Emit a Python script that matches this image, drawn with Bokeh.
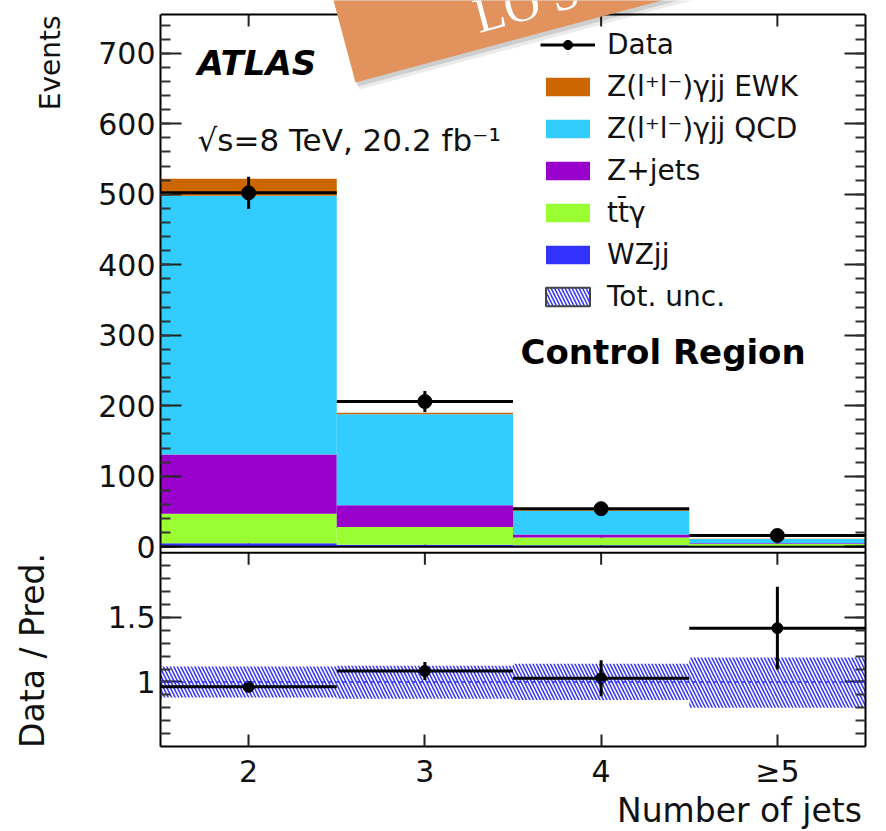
import numpy as np
from math import pi, radians
from bokeh.plotting import figure
from bokeh.models import (Range1d, LinearAxis, FixedTicker, Legend, LegendItem,
                          Label, PolyAnnotation, ColumnDataSource, Span, CustomJSTickFormatter)
from bokeh.layouts import column, row
from bokeh.embed import file_html
from bokeh.resources import INLINE

# ---------------- data ----------------
bin_labels = ["2", "3", "4", "≥5"]
bin_centers = [2, 3, 4, 5]
bin_lo = [1.5, 2.5, 3.5, 4.5]
bin_hi = [2.5, 3.5, 4.5, 5.5]

wzjj = [5, 3, 2, 1]
ttgamma = [42, 25, 11, 3]
zjets = [84, 31, 4.5, 1]
qcd = [367, 129, 33.5, 6]
ewk = [24, 2, 1.5, 0.3]

data = [502, 206, 54, 16]
data_err = [23, 15, 8, 4]

ratio_err = [0.04, 0.07, 0.14, 0.32]
unc_lo = [0.88, 0.87, 0.86, 0.80]
unc_hi = [1.12, 1.125, 1.14, 1.19]

top_ticks = [0, 100, 200, 300, 400, 500, 600, 700]
ratio_ticks = [1.0, 1.5]
ratio_tick_labels = ["1", "1.5"]

series_names = ["WZjj", "tt\u0304γ", "Z+jets", "Z(l⁺l⁻)γjj QCD", "Z(l⁺l⁻)γjj EWK"]
series_vals = [wzjj, ttgamma, zjets, qcd, ewk]
series_cols = ["#3333FF", "#99FF33", "#9900CC", "#33CCFF", "#CC6600"]

FONT = "DejaVu Sans"

# ---------------- geometry (global pixels) ----------------
W, H = 886, 831
LEFT_W = 90                 # helper strip holding the vertical titles
BOT_STRIP = 40              # helper strip holding the x title
FR_L, FR_R = 160, 865
TOP_T, TOP_B = 14, 547      # upper panel frame
RAT_T, RAT_B = 553, 747     # ratio panel frame
YMAX = 755
RMIN, RMAX = 0.5, 2.0

TOP_PPU = (TOP_B - TOP_T) / YMAX
R_PPU = (RAT_B - RAT_T) / (RMAX - RMIN)


def px_x(px):
    return 1.5 + (px - FR_L) * 4.0 / (FR_R - FR_L)


def main_of_py(py):
    return (TOP_B - py) / TOP_PPU


def ratio_of_py(py):
    return RMIN + (RAT_B - py) / R_PPU


def main_of_ratio(rv):
    return main_of_py(RAT_B - (rv - RMIN) * R_PPU)


MAIN_W = W - LEFT_W
MAIN_H = H - BOT_STRIP

p = figure(width=MAIN_W, height=MAIN_H, x_range=Range1d(1.5, 5.5),
           y_range=Range1d(main_of_py(RAT_B), main_of_py(0)),
           output_backend="svg", toolbar_location=None,
           x_axis_location=None, y_axis_location=None,
           min_border_left=FR_L - LEFT_W, min_border_right=W - FR_R,
           min_border_top=0, min_border_bottom=MAIN_H - RAT_B)
p.extra_y_ranges = {"ratio": Range1d(ratio_of_py(RAT_B), ratio_of_py(0))}
p.grid.visible = False
p.outline_line_color = None
p.background_fill_color = "white"
p.border_fill_color = "white"

# ---- y axes (one per side, carrying both panels' ticks) ----
maj = [float(t) for t in top_ticks] + [main_of_ratio(t) for t in ratio_ticks]
labs = [str(t) for t in top_ticks] + ratio_tick_labels
minor = [float(v) for v in range(0, YMAX, 20)] + \
        [main_of_ratio(v) for v in np.round(np.arange(0.6, 2.0, 0.1), 1)]
fmt = CustomJSTickFormatter(args=dict(pos=maj, lab=labs), code="""
for (let i = 0; i < pos.length; i++) { if (Math.abs(pos[i] - tick) < 1e-6) return lab[i]; }
return '';
""")


def style_axis(ax, tick_in, minor_in):
    ax.major_tick_in = tick_in
    ax.major_tick_out = 0
    ax.minor_tick_in = minor_in
    ax.minor_tick_out = 0
    ax.major_tick_line_width = 2
    ax.minor_tick_line_width = 2
    ax.axis_line_width = 2
    ax.axis_line_color = "black"
    ax.major_tick_line_color = "#222222"
    ax.minor_tick_line_color = "#333333"


ax_l = LinearAxis(ticker=FixedTicker(ticks=maj, minor_ticks=minor), formatter=fmt,
                  bounds=(main_of_py(RAT_B), YMAX))
style_axis(ax_l, 21, 10)
ax_l.major_label_text_font = FONT
ax_l.major_label_text_font_size = "30px"
ax_l.major_label_text_color = "#111111"
ax_l.major_label_standoff = 5
p.add_layout(ax_l, "left")

ax_r = LinearAxis(ticker=FixedTicker(ticks=maj, minor_ticks=minor),
                  formatter=CustomJSTickFormatter(code="return ''"),
                  bounds=(main_of_py(RAT_B), YMAX))
style_axis(ax_r, 21, 10)
ax_r.major_label_text_font_size = "1px"
ax_r.major_label_standoff = 0
p.add_layout(ax_r, "right")

ax_b = LinearAxis(ticker=FixedTicker(ticks=bin_centers, minor_ticks=[]))
style_axis(ax_b, 12, 0)
ax_b.major_label_overrides = {c: lab for c, lab in zip(bin_centers, bin_labels)}
ax_b.major_label_text_font = FONT
ax_b.major_label_text_font_size = "30px"
ax_b.major_label_text_color = "#111111"
ax_b.major_label_standoff = 7
p.add_layout(ax_b, "below")

# panel edges not covered by axes
p.add_layout(Span(location=YMAX, dimension="width", line_color="black", line_width=2))
p.add_layout(Span(location=0, dimension="width", line_color="black", line_width=2))
p.add_layout(Span(location=RMAX, dimension="width", line_color="black", line_width=2, y_range_name="ratio"))
tick_len_top = 12 / TOP_PPU
tick_len_rat = 12 / R_PPU
p.segment(x0=bin_centers, x1=bin_centers, y0=[0] * 4, y1=[tick_len_top] * 4, line_color="#222222", line_width=2)
p.segment(x0=bin_centers, x1=bin_centers, y0=[YMAX] * 4, y1=[YMAX - tick_len_top] * 4,
          line_color="#222222", line_width=2)
p.segment(x0=bin_centers, x1=bin_centers, y0=[RMAX] * 4, y1=[RMAX - tick_len_rat] * 4,
          line_color="#222222", line_width=2, y_range_name="ratio")

# ---- stacked histogram ----
bottom = np.zeros(len(bin_centers))
stack_rs = {}
for name, vals, col in zip(series_names, series_vals, series_cols):
    top = bottom + np.array(vals, dtype=float)
    src = ColumnDataSource(dict(left=bin_lo, right=bin_hi, bottom=bottom.tolist(), top=top.tolist()))
    stack_rs[name] = p.quad(left="left", right="right", bottom="bottom", top="top", source=src,
                            fill_color=col, line_color=None)
    bottom = top
pred = bottom

dsrc = ColumnDataSource(dict(x=bin_centers, lo=bin_lo, hi=bin_hi, y=data,
                             ylo=[d - e for d, e in zip(data, data_err)],
                             yhi=[d + e for d, e in zip(data, data_err)]))
r_h = p.segment(x0="lo", x1="hi", y0="y", y1="y", source=dsrc, line_color="black", line_width=3)
p.segment(x0="x", x1="x", y0="ylo", y1="yhi", source=dsrc, line_color="black", line_width=3)
r_dot = p.scatter(x="x", y="y", source=dsrc, size=14, marker="circle", fill_color="black", line_color="black")

# ---- ratio panel ----
p.quad(left=bin_lo, right=bin_hi, bottom=unc_lo, top=unc_hi, fill_alpha=0, line_color=None,
       hatch_pattern="\\", hatch_color="#3333FF", hatch_scale=7, hatch_weight=1.5, y_range_name="ratio")
p.add_layout(Span(location=1.0, dimension="width", line_color="#3333FF", line_width=1.5, line_dash="4 3",
                  y_range_name="ratio"))
ratio = [d / t for d, t in zip(data, pred)]
rsrc = ColumnDataSource(dict(x=bin_centers, lo=bin_lo, hi=bin_hi, y=ratio,
                             ylo=[a - e for a, e in zip(ratio, ratio_err)],
                             yhi=[a + e for a, e in zip(ratio, ratio_err)]))
p.segment(x0="lo", x1="hi", y0="y", y1="y", source=rsrc, line_color="black", line_width=3, y_range_name="ratio")
p.segment(x0="x", x1="x", y0="ylo", y1="yhi", source=rsrc, line_color="black", line_width=3, y_range_name="ratio")
p.scatter(x="x", y="y", source=rsrc, size=11, marker="circle", fill_color="black", line_color="black",
          y_range_name="ratio")

# ---- legend ----
unc_proxy = p.quad(left=[np.nan], right=[np.nan], bottom=[np.nan], top=[np.nan],
                   fill_color="white", fill_alpha=1, line_color="#444444", line_width=2,
                   hatch_pattern="\\", hatch_color="#3333FF", hatch_scale=7, hatch_weight=1.5)
items = [LegendItem(label="Data", renderers=[r_h, r_dot])]
for name in ["Z(l⁺l⁻)γjj EWK", "Z(l⁺l⁻)γjj QCD", "Z+jets", "tt\u0304γ", "WZjj"]:
    items.append(LegendItem(label=name, renderers=[stack_rs[name]]))
items.append(LegendItem(label="Tot. unc.", renderers=[unc_proxy]))
leg = Legend(items=items, location=(380, RAT_B - 314))
leg.glyph_width = 55
leg.glyph_height = 23
leg.label_standoff = 12
leg.label_text_font = FONT
leg.label_text_font_size = "28px"
leg.label_text_color = "#111111"
leg.spacing = 9
leg.padding = 0
leg.margin = 0
leg.border_line_color = None
leg.background_fill_alpha = 0
p.add_layout(leg)

# ---- in-frame texts ----
p.add_layout(Label(x=px_x(197), y=main_of_py(63), text="ATLAS", text_font=FONT, text_font_size="34px",
                   text_font_style="bold italic", text_align="left", text_baseline="middle", text_color="black"))
p.add_layout(Label(x=px_x(197), y=main_of_py(140), text="√s=8 TeV, 20.2  fb⁻¹", text_font=FONT,
                   text_font_size="31px", text_align="left", text_baseline="middle", text_color="#111111"))
p.add_layout(Label(x=px_x(520), y=main_of_py(352), text="Control Region", text_font=FONT,
                   text_font_size="34px", text_font_style="bold", text_align="left", text_baseline="middle",
                   text_color="black"))

# ---- decorative sticker over the top edge ----
ang = radians(15)
slope = np.tan(ang)
bl = (355, 82)
pts_px = [bl, (705, bl[1] - slope * (705 - bl[0])), (705, -120), (bl[0] - slope * (bl[1] + 120), -120)]
for dx, dy, a in [(2, 4, 0.12), (4, 7, 0.08)]:
    sh = [(x + dx, y + dy) for x, y in pts_px]
    p.add_layout(PolyAnnotation(xs=[px_x(x) for x, y in sh], ys=[main_of_py(y) for x, y in sh],
                                fill_color="black", fill_alpha=a, line_color=None, level="overlay"))
p.add_layout(PolyAnnotation(xs=[px_x(x) for x, y in pts_px], ys=[main_of_py(y) for x, y in pts_px],
                            fill_color="#E2925C", fill_alpha=1, line_color=None, level="overlay"))
p.add_layout(Label(x=px_x(474), y=main_of_py(16), text="LO S", text_font="Liberation Serif",
                   text_font_size="50px", text_color="white", angle=ang, text_align="left",
                   text_baseline="alphabetic", level="overlay"))


# ---------------- helper strips for the axis titles ----------------
def strip(w, h):
    f = figure(width=w, height=h, x_range=Range1d(0, w), y_range=Range1d(0, h),
               output_backend="svg", toolbar_location=None,
               x_axis_location=None, y_axis_location=None,
               min_border_left=0, min_border_right=0, min_border_top=0, min_border_bottom=0)
    f.grid.visible = False
    f.outline_line_color = None
    f.border_fill_color = "white"
    return f


lt = strip(LEFT_W, H)
lt.add_layout(Label(x=50, y=H - 15, text="Events", text_font=FONT, text_font_size="28px",
                    angle=pi / 2, text_align="right", text_baseline="middle", text_color="#111111"))
lt.add_layout(Label(x=32, y=H - (RAT_T + RAT_B) / 2, text="Data / Pred.", text_font=FONT,
                    text_font_size="33px", angle=pi / 2, text_align="center", text_baseline="middle",
                    text_color="#111111"))

bt = strip(MAIN_W, BOT_STRIP)
bt.add_layout(Label(x=MAIN_W - 4, y=BOT_STRIP - (810 - MAIN_H), text="Number of jets", text_font=FONT,
                    text_font_size="33px", text_align="right", text_baseline="middle", text_color="#111111"))

layout = row(lt, column(p, bt, spacing=0), spacing=0)
open("out.html", "w").write(file_html(layout, INLINE))
